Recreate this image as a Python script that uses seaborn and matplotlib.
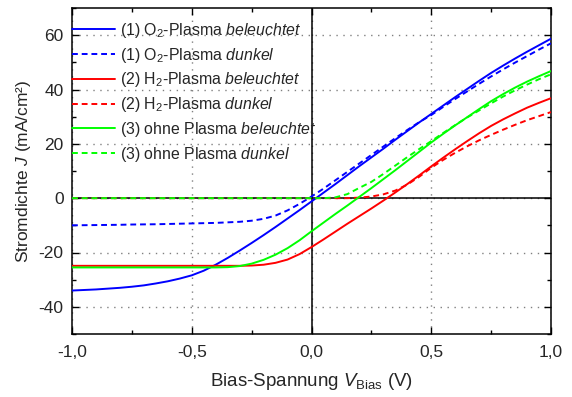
import matplotlib
matplotlib.use("Agg")
import matplotlib.pyplot as plt
import seaborn as sns
import numpy as np
import pandas as pd
from matplotlib.ticker import MultipleLocator, FuncFormatter

# ---- data ----
V = [-1.00, -0.95, -0.90, -0.85, -0.80, -0.75, -0.70, -0.65, -0.60, -0.55,
     -0.50, -0.45, -0.40, -0.35, -0.30, -0.25, -0.20, -0.15, -0.10, -0.05,
     0.00, 0.05, 0.10, 0.15, 0.20, 0.25, 0.30, 0.35, 0.40, 0.45,
     0.50, 0.55, 0.60, 0.65, 0.70, 0.75, 0.80, 0.85, 0.90, 0.95, 1.00]

o2_light = [-34.0, -33.8, -33.6, -33.3, -33.0, -32.6, -32.1, -31.4, -30.6, -29.6,
            -28.4, -26.7, -24.5, -22.0, -19.3, -16.5, -13.6, -10.6, -7.5, -4.4,
            -1.2, 2.0, 5.2, 8.5, 11.8, 15.0, 18.2, 21.5, 24.7, 27.9,
            31.0, 34.1, 37.2, 40.2, 43.2, 46.1, 48.8, 51.4, 53.9, 56.3, 58.7]

o2_dark = [-10.0, -9.95, -9.9, -9.85, -9.8, -9.7, -9.65, -9.6, -9.5, -9.4,
           -9.3, -9.2, -9.1, -8.9, -8.7, -8.3, -7.6, -6.4, -4.5, -2.1,
           0.6, 3.5, 6.6, 9.7, 12.8, 15.9, 19.0, 22.1, 25.1, 28.0,
           30.6, 33.6, 36.5, 39.3, 42.1, 44.8, 47.4, 49.9, 52.3, 54.7, 57.0]

h2_light = [-24.9, -24.9, -24.9, -24.9, -24.9, -24.9, -24.9, -24.9, -24.9, -24.9,
            -24.9, -24.9, -24.9, -24.9, -24.9, -24.8, -24.5, -23.8, -22.6, -20.6,
            -18.0, -15.2, -12.3, -9.4, -6.6, -3.8, -0.9, 2.1, 5.2, 8.4,
            11.7, 14.9, 18.0, 21.0, 23.9, 26.6, 29.0, 31.2, 33.3, 35.1, 36.8]

h2_dark = [0.0, 0.0, 0.0, 0.0, 0.0, 0.0, 0.0, 0.0, 0.0, 0.0,
           0.0, 0.0, 0.0, 0.0, 0.0, 0.0, 0.0, 0.0, 0.0, 0.0,
           0.0, 0.0, 0.0, 0.0, 0.2, 0.6, 1.4, 2.8, 5.0, 7.9,
           11.2, 14.1, 16.7, 19.1, 21.3, 23.3, 25.2, 27.0, 28.7, 30.2, 31.7]

none_light = [-25.5, -25.5, -25.5, -25.5, -25.5, -25.5, -25.5, -25.5, -25.5, -25.5,
              -25.5, -25.5, -25.5, -25.4, -25.0, -24.1, -22.7, -20.8, -18.4, -15.5,
              -12.2, -9.0, -5.8, -2.7, 0.5, 3.7, 7.0, 10.3, 13.7, 17.1,
              20.5, 23.7, 26.8, 29.8, 32.8, 35.7, 38.3, 40.7, 42.9, 44.9, 46.8]

none_dark = [0.0, 0.0, 0.0, 0.0, 0.0, 0.0, 0.0, 0.0, 0.0, 0.0,
             0.0, 0.0, 0.0, 0.0, 0.0, 0.0, 0.0, 0.0, 0.0, 0.0,
             0.0, 0.0, 0.3, 1.5, 3.8, 6.0, 8.9, 12.0, 15.1, 18.1,
             21.0, 24.0, 26.9, 29.7, 32.3, 34.9, 37.4, 39.7, 41.8, 43.8, 45.6]

labels = [r"(1) O$_2$-Plasma $beleuchtet$",
          r"(1) O$_2$-Plasma $dunkel$",
          r"(2) H$_2$-Plasma $beleuchtet$",
          r"(2) H$_2$-Plasma $dunkel$",
          r"(3) ohne Plasma $beleuchtet$",
          r"(3) ohne Plasma $dunkel$"]
series = [o2_light, o2_dark, h2_light, h2_dark, none_light, none_dark]
colors = ["#0000FF", "#0000FF", "#FF0000", "#FF0000", "#00FF00", "#00FF00"]
styles = ["-", (0, (3, 2)), "-", (0, (3, 2)), "-", (0, (3, 2))]

x_ticks = [-1.0, -0.5, 0.0, 0.5, 1.0]
y_ticks = [-40, -20, 0, 20, 40, 60]

# ---- style ----
sns.set_style("ticks")
plt.rcParams["font.family"] = ["Liberation Sans", "DejaVu Sans"]
plt.rcParams["mathtext.fontset"] = "custom"
plt.rcParams["mathtext.rm"] = "Liberation Sans"
plt.rcParams["mathtext.it"] = "Liberation Sans:italic"
plt.rcParams["mathtext.bf"] = "Liberation Sans:bold"
plt.rcParams["axes.unicode_minus"] = False

fig = plt.figure(figsize=(5.72, 3.97), dpi=100)
ax = fig.add_axes([72 / 572, 1 - 334 / 397, (551 - 72) / 572, (334 - 8) / 397])

ax.axhline(0, color="black", lw=1.1, zorder=1)
ax.axvline(0, color="black", lw=1.1, zorder=1)

for vals, lab, col, ls in zip(series, labels, colors, styles):
    df = pd.DataFrame({"V": V, "J": vals})
    sns.lineplot(data=df, x="V", y="J", color=col, linestyle=ls, lw=1.4,
                 label=lab, ax=ax, zorder=3)

ax.set_xlim(-1.0, 1.0)
ax.set_ylim(-50, 70)
ax.set_xticks(x_ticks)
ax.set_yticks(y_ticks)
ax.xaxis.set_minor_locator(MultipleLocator(0.25))
ax.yaxis.set_minor_locator(MultipleLocator(10))
ax.xaxis.set_major_formatter(FuncFormatter(lambda v, p: f"{v:.1f}".replace(".", ",")))
ax.yaxis.set_major_formatter(FuncFormatter(lambda v, p: f"{v:.0f}"))

ax.tick_params(which="both", direction="in", top=True, right=True, labelsize=12.5,
               color="black", width=1)
ax.tick_params(which="major", length=5, pad=6)
ax.tick_params(axis="x", which="major", pad=8)
ax.tick_params(which="minor", length=3)
for s in ax.spines.values():
    s.set_linewidth(1.1)
    s.set_color("black")

ax.grid(True, which="major", color="#808080", linestyle=(0, (1, 4)), lw=1.0, zorder=0)

ax.set_xlabel(r"Bias-Spannung $V_{\mathrm{Bias}}$ (V)", fontsize=13.5, labelpad=8)
ax.set_ylabel(r"Stromdichte $J$ (mA/cm²)", fontsize=12.5, labelpad=4)

leg = ax.legend(loc="upper left", bbox_to_anchor=(0.0, 1 - 13 / 326), frameon=False,
                fontsize=11.4, handlelength=2.7, handletextpad=0.3,
                labelspacing=0.36, borderaxespad=0.0, borderpad=0.0)

fig.savefig("out.png", dpi=100)
